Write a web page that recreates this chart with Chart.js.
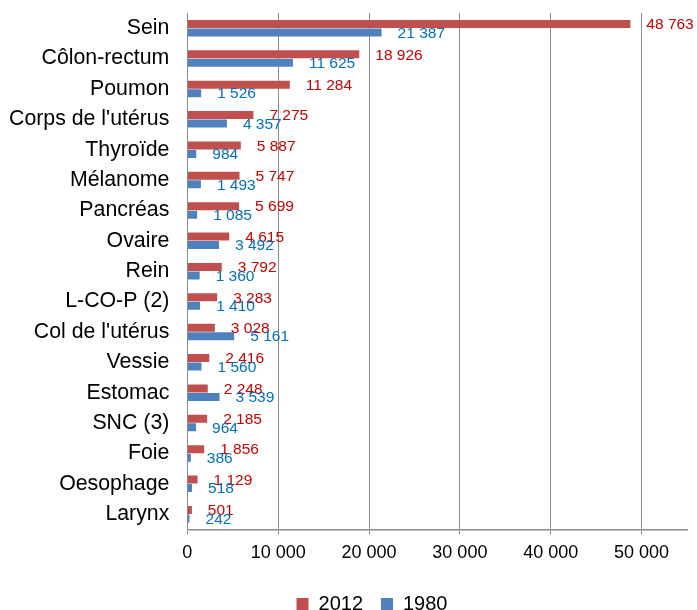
<!DOCTYPE html>
<html>
<head>
<meta charset="utf-8">
<script src="https://cdn.jsdelivr.net/npm/chart.js@4"></script>
<style>
  html, body { margin: 0; padding: 0; background: #fff; }
  #wrap { width: 697px; height: 610px; }
</style>
</head>
<body>
<div id="wrap"><canvas id="chart" width="697" height="610"></canvas></div>
<script>
var CATEGORIES = ['Sein', 'Côlon-rectum', 'Poumon', "Corps de l'utérus", 'Thyroïde', 'Mélanome', 'Pancréas', 'Ovaire', 'Rein', 'L-CO-P (2)', "Col de l'utérus", 'Vessie', 'Estomac', 'SNC (3)', 'Foie', 'Oesophage', 'Larynx'];
var VALUES_2012 = [48763, 18926, 11284, 7275, 5887, 5747, 5699, 4615, 3792, 3283, 3028, 2416, 2248, 2185, 1856, 1129, 501];
var VALUES_1980 = [21387, 11625, 1526, 4357, 984, 1493, 1085, 3492, 1360, 1410, 5161, 1560, 3539, 964, 386, 518, 242];
var X_TICKS = [0, 10000, 20000, 30000, 40000, 50000];
var SERIES = ['2012', '1980'];
var BAR_COLORS = ['#c0504d', '#4f81bd'];
var LABEL_COLORS = ['#cc0000', '#0070c0'];
var FONT = '"Liberation Sans", Arial, sans-serif';

function fmt(v) {
  return String(v).replace(/\B(?=(\d{3})+(?!\d))/g, ' ');
}

// valeurs écrites au bout des barres
var barLabels = {
  id: 'barLabels',
  afterLayout: function(chart) {
    // légende un peu décalée vers la droite comme dans l'original
    chart.legend.left += 33;
    chart.legend.right += 33;
  },
  afterDatasetsDraw: function(chart) {
    var c = chart.ctx;
    c.save();
    c.font = '15.5px ' + FONT;
    c.textAlign = 'left';
    c.textBaseline = 'middle';
    chart.data.datasets.forEach(function(ds, i) {
      var meta = chart.getDatasetMeta(i);
      c.fillStyle = LABEL_COLORS[i];
      meta.data.forEach(function(bar, j) {
        c.fillText(fmt(ds.data[j]), bar.x + 16, bar.y + 1);
      });
    });
    c.restore();
  }
};

var ctx = document.getElementById('chart');
var chart = new Chart(ctx, {
  type: 'bar',
  data: {
    labels: CATEGORIES,
    datasets: [{
      label: SERIES[0],
      data: VALUES_2012,
      backgroundColor: BAR_COLORS[0],
      barPercentage: 0.94,
      categoryPercentage: 0.56
    }, {
      label: SERIES[1],
      data: VALUES_1980,
      backgroundColor: BAR_COLORS[1],
      barPercentage: 0.94,
      categoryPercentage: 0.56
    }]
  },
  options: {
    indexAxis: 'y',
    responsive: false,
    animation: false,
    layout: { padding: { left: -9, right: 10, top: 13, bottom: -14 } },
    scales: {
      x: {
        min: 0,
        max: 55000,
        afterBuildTicks: function(scale) {
          scale.ticks = X_TICKS.map(function(v) { return { value: v }; });
        },
        afterFit: function(scale) {
          scale.height += 4;
        },
        ticks: {
          autoSkip: false,
          color: '#000',
          font: { family: FONT, size: 18 },
          padding: 8,
          maxRotation: 0,
          callback: function(v) { return fmt(v); }
        },
        grid: { color: '#8c8c8c', lineWidth: 1, tickLength: 5 },
        border: { color: '#8c8c8c', width: 1.5 }
      },
      y: {
        afterFit: function(scale) {
          scale.paddingTop = 0;
          scale.paddingBottom = 0;
        },
        ticks: {
          color: '#000',
          font: { family: FONT, size: 21.3 },
          padding: 18,
          autoSkip: false
        },
        grid: { display: false, drawTicks: false },
        border: { display: false }
      }
    },
    plugins: {
      legend: {
        position: 'bottom',
        labels: {
          boxWidth: 12,
          boxHeight: 12,
          padding: 18,
          color: '#000',
          font: { family: FONT, size: 20 }
        }
      },
      tooltip: { enabled: false }
    }
  },
  plugins: [barLabels]
});
</script>
</body>
</html>
